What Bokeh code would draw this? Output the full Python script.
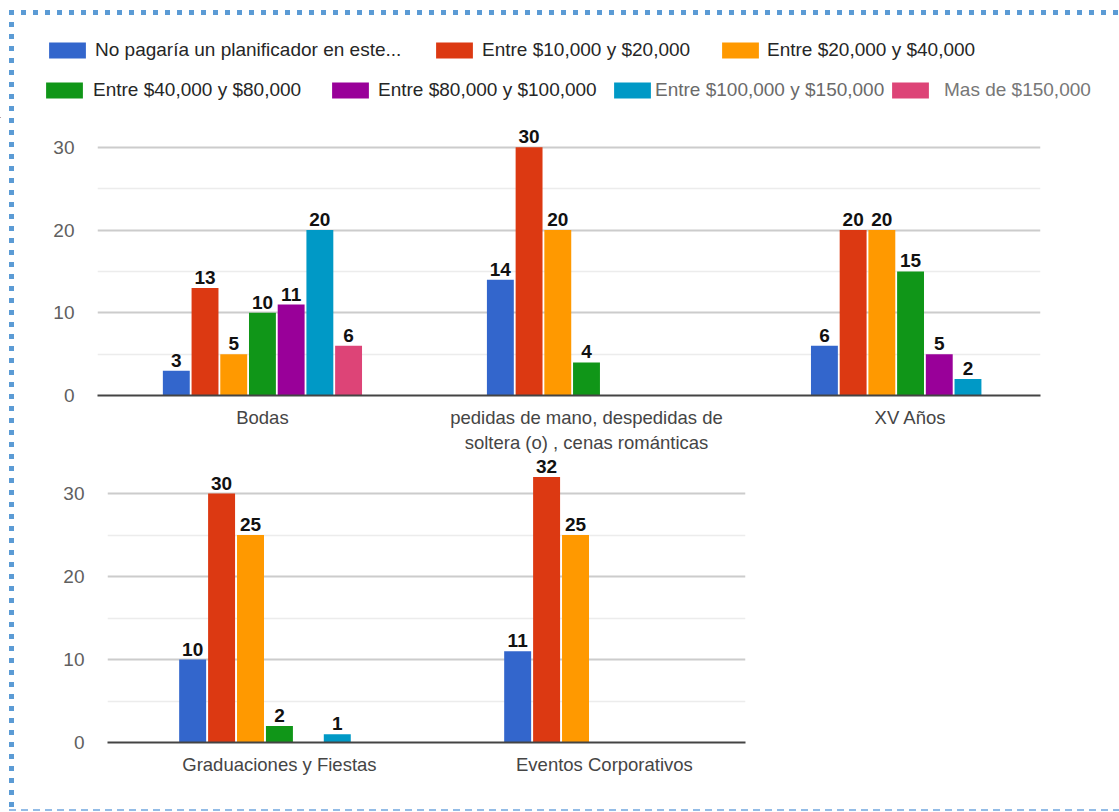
import numpy as np
from bokeh.plotting import figure
from bokeh.models import ColumnDataSource, FixedTicker, Range1d, Legend, LegendItem
from bokeh.layouts import column
from bokeh.transform import dodge
from bokeh.embed import file_html
from bokeh.resources import INLINE
from bokeh.core.properties import value

# ---------------- data ----------------
series_names = [
    "No pagaría un planificador en este...",
    "Entre $10,000 y $20,000",
    "Entre $20,000 y $40,000",
    "Entre $40,000 y $80,000",
    "Entre $80,000 y $100,000",
    "Entre $100,000 y $150,000",
    "Mas de $150,000",
]
series_colors = ["#3366cc", "#dc3912", "#ff9900", "#109618", "#990099", "#0099c6", "#dd4477"]

top_categories = ["Bodas", "pedidas de mano, despedidas de\nsoltera (o) , cenas románticas", "XV Años"]
bottom_categories = ["Graduaciones y Fiestas", "Eventos Corporativos"]

# values per series for: Bodas, pedidas..., XV Años, Graduaciones y Fiestas, Eventos Corporativos
no_pagaria = [3, 14, 6, 10, 11]
entre_10_20 = [13, 30, 20, 30, 32]
entre_20_40 = [5, 20, 20, 25, 25]
entre_40_80 = [10, 4, 15, 2, 0]
entre_80_100 = [11, 0, 5, 0, 0]
entre_100_150 = [20, 0, 2, 1, 0]
mas_150 = [6, 0, 0, 0, 0]

all_series = [no_pagaria, entre_10_20, entre_20_40, entre_40_80, entre_80_100, entre_100_150, mas_150]

y_ticks = [0, 10, 20, 30]
y_minor = [5, 15, 25]

FONT = "Liberation Sans"


def make_chart(cats, offset, height, x_start, x_end, y_end, borders, pitch, bar_w):
    p = figure(width=1119, height=height, x_range=Range1d(x_start, x_end), y_range=Range1d(0, y_end),
               output_backend="svg", toolbar_location=None,
               min_border_left=borders[0], min_border_right=borders[1],
               min_border_top=borders[2], min_border_bottom=borders[3])
    p.outline_line_color = None
    p.background_fill_color = None
    p.border_fill_color = None
    n = len(cats)
    idx = list(range(n))
    for i, vals in enumerate(all_series):
        sub = vals[offset:offset + n]
        xs = [k for k, v in zip(idx, sub) if v]
        ys = [v for v in sub if v]
        src = ColumnDataSource(dict(x=xs, y=ys, label=[str(v) for v in ys]))
        xd = dodge("x", (i - 3) * pitch, range=p.x_range)
        p.vbar(x=xd, top="y", width=bar_w, source=src, fill_color=series_colors[i], line_color=None)
        p.text(x=xd, y="y", text="label", source=src, text_align="center", text_baseline="bottom",
               y_offset=-4, text_font=value(FONT), text_font_style="bold", text_font_size="19px",
               text_color="#111111")
    p.xaxis.ticker = FixedTicker(ticks=idx)
    p.xaxis.major_label_overrides = {k: c for k, c in zip(idx, cats)}
    p.xaxis.major_tick_line_color = None
    p.xaxis.minor_tick_line_color = None
    p.xaxis.axis_line_color = "#444444"
    p.xaxis.axis_line_width = 2
    p.xaxis.major_label_text_font = FONT
    p.xaxis.major_label_text_font_size = "18.5px"
    p.xaxis.major_label_text_color = "#454545"
    p.xaxis.major_label_standoff = 5
    p.xgrid.visible = False

    p.yaxis.ticker = FixedTicker(ticks=y_ticks, minor_ticks=y_minor)
    p.yaxis.axis_line_color = None
    p.yaxis.major_tick_line_color = None
    p.yaxis.minor_tick_line_color = None
    p.yaxis.major_label_text_font = FONT
    p.yaxis.major_label_text_font_size = "19px"
    p.yaxis.major_label_text_color = "#606060"
    p.yaxis.major_label_standoff = 17
    p.ygrid.grid_line_color = "#cccccc"
    p.ygrid.grid_line_width = 2
    p.ygrid.minor_grid_line_color = "#ececec"
    p.ygrid.minor_grid_line_width = 1.5
    return p


# ---------------- legend ----------------
lp = figure(width=1119, height=118, x_range=Range1d(0, 1119), y_range=Range1d(0, 118),
            output_backend="svg", toolbar_location=None, min_border=0,
            x_axis_location=None, y_axis_location=None)
lp.outline_line_color = None
lp.background_fill_color = None
lp.border_fill_color = None
lp.grid.visible = False

legend_layout = [  # (left x, bottom y, label standoff, text color)
    (44, 57, 5, "#262626"),
    (431, 57, 5, "#262626"),
    (717, 57, 4, "#262626"),
    (41, 17, 6, "#262626"),
    (327, 17, 5, "#262626"),
    (609, 17, 0, "#6a6a6a"),
    (887, 17, 11, "#777777"),
]
for name, col, (lx, ly, st, tc) in zip(series_names, series_colors, legend_layout):
    # legend-only renderer, placed outside the visible range
    r = lp.vbar(x=[-1000], top=[1], width=1, fill_color=col, line_color=None)
    leg = Legend(items=[LegendItem(label=name, renderers=[r])], location=(lx, ly),
                 orientation="horizontal", glyph_width=46, glyph_height=20, label_standoff=st,
                 label_text_font=FONT, label_text_font_size="19px", label_text_color=tc,
                 border_line_color=None, background_fill_alpha=0, padding=0, margin=0,
                 label_height=16, spacing=0)
    lp.add_layout(leg)

top = make_chart(top_categories, 0, 337, -0.509, 2.401, 33.0, (97, 79, 4, 54), 0.0886, 0.083)
bottom = make_chart(bottom_categories, 3, 357, -0.529, 1.434, 34.58, (107, 374, 0, 70), 0.089, 0.083)

border_styles = {
    "background-image": (
        "repeating-linear-gradient(to right, #5b9bd5 0px 5px, transparent 5px 12px), "
        "repeating-linear-gradient(to bottom, #5b9bd5 0px 5px, transparent 5px 12px), "
        "repeating-linear-gradient(to right, #93bce6 0px 7px, transparent 7px 12px)"
    ),
    "background-size": "1110px 5px, 5px 800px, 1110px 2px",
    "background-position": "9px 10px, 9px 10px, 9px 809px",
    "background-repeat": "no-repeat",
}

layout = column(column(lp), column(top), column(bottom), spacing=0, styles=border_styles)

open("out.html", "w").write(file_html(layout, INLINE))
